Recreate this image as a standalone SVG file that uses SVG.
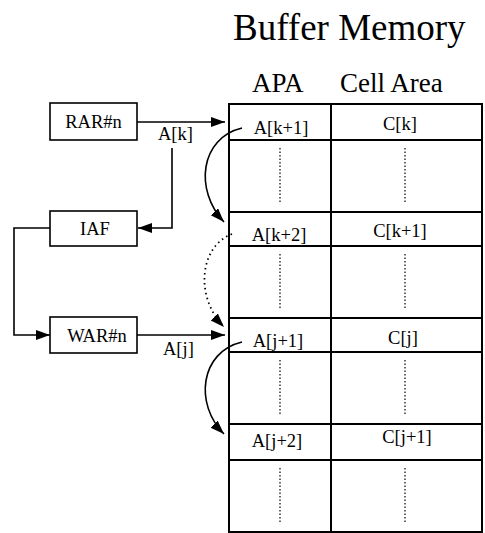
<svg xmlns="http://www.w3.org/2000/svg" width="485" height="533" viewBox="0 0 485 533">
<style>
text{font-family:"Liberation Serif","Times New Roman",serif;fill:#000}
.lbl{font-size:18.5px}
.hdr{font-size:27px}
.box{fill:#fff;stroke:#000;stroke-width:1.6}
.tbl{fill:none;stroke:#000;stroke-width:2}
.dot{fill:none;stroke:#000;stroke-width:1.2;stroke-dasharray:1.5 2}
.con{fill:none;stroke:#000;stroke-width:1.6}
.dcon{fill:none;stroke:#000;stroke-width:1.8;stroke-dasharray:1.5 3.5}
</style>
<defs>
<marker id="ah" markerUnits="userSpaceOnUse" markerWidth="16" markerHeight="12" refX="14" refY="5" orient="auto">
<path d="M0,0 L14,5 L0,10 z" fill="#000"/>
</marker>
</defs>
<rect width="485" height="533" fill="#fff"/>
<text x="233" y="40" style="font-size:37px">Buffer Memory</text>
<g id="headers">
<text class="hdr" x="252" y="92">APA</text>
<text class="hdr" x="340" y="92">Cell Area</text>
</g>
<g id="buffer">
<rect class="tbl" x="229" y="104" width="253" height="428"/>
<line class="tbl" x1="331" y1="104" x2="331" y2="532"/>
<line class="tbl" x1="229" y1="140" x2="482" y2="140"/>
<line class="tbl" x1="229" y1="212" x2="482" y2="212"/>
<line class="tbl" x1="229" y1="246" x2="482" y2="246"/>
<line class="tbl" x1="229" y1="318" x2="482" y2="318"/>
<line class="tbl" x1="229" y1="352" x2="482" y2="352"/>
<line class="tbl" x1="229" y1="424" x2="482" y2="424"/>
<line class="tbl" x1="229" y1="460" x2="482" y2="460"/>
<line class="dot" x1="280" y1="148" x2="280" y2="204"/>
<line class="dot" x1="405" y1="148" x2="405" y2="204"/>
<line class="dot" x1="280" y1="254" x2="280" y2="310"/>
<line class="dot" x1="405" y1="254" x2="405" y2="310"/>
<line class="dot" x1="280" y1="360" x2="280" y2="416"/>
<line class="dot" x1="405" y1="360" x2="405" y2="416"/>
<line class="dot" x1="280" y1="468" x2="280" y2="524"/>
<line class="dot" x1="405" y1="468" x2="405" y2="524"/>
<g class="lbl" text-anchor="middle">
<text x="281" y="134">A[k+1]</text>
<text x="400" y="130">C[k]</text>
<text x="279" y="241">A[k+2]</text>
<text x="400" y="237">C[k+1]</text>
<text x="278" y="347">A[j+1]</text>
<text x="403" y="344">C[j]</text>
<text x="277" y="447">A[j+2]</text>
<text x="407" y="443">C[j+1]</text>
</g>
</g>
<g id="rar">
<rect class="box" x="50" y="103" width="87" height="37"/>
<text class="lbl" x="93.5" y="128" text-anchor="middle">RAR#n</text>
</g>
<g id="iaf">
<rect class="box" x="50" y="211" width="87" height="35"/>
<text class="lbl" x="95" y="235" text-anchor="middle">IAF</text>
</g>
<g id="war">
<rect class="box" x="50" y="317" width="87" height="36"/>
<text class="lbl" x="97" y="342" text-anchor="middle">WAR#n</text>
</g>
<g id="connectors">
<line class="con" x1="137" y1="122" x2="225" y2="122" marker-end="url(#ah)"/>
<line class="con" x1="137" y1="335" x2="225" y2="335" marker-end="url(#ah)"/>
<polyline class="con" points="172,148 172,228 138,228" marker-end="url(#ah)"/>
<polyline class="con" points="50,228 14,228 14,335 50,335" marker-end="url(#ah)"/>
<path class="con" d="M242,128 C200,138 194,190 224,222" marker-end="url(#ah)"/>
<path class="dcon" d="M232,234 C200,246 194,296 224,327" marker-end="url(#ah)"/>
<path class="con" d="M242,342 C200,352 194,404 224,434" marker-end="url(#ah)"/>
<text class="lbl" x="158" y="140">A[k]</text>
<text class="lbl" x="163" y="355">A[j]</text>
</g>
</svg>
